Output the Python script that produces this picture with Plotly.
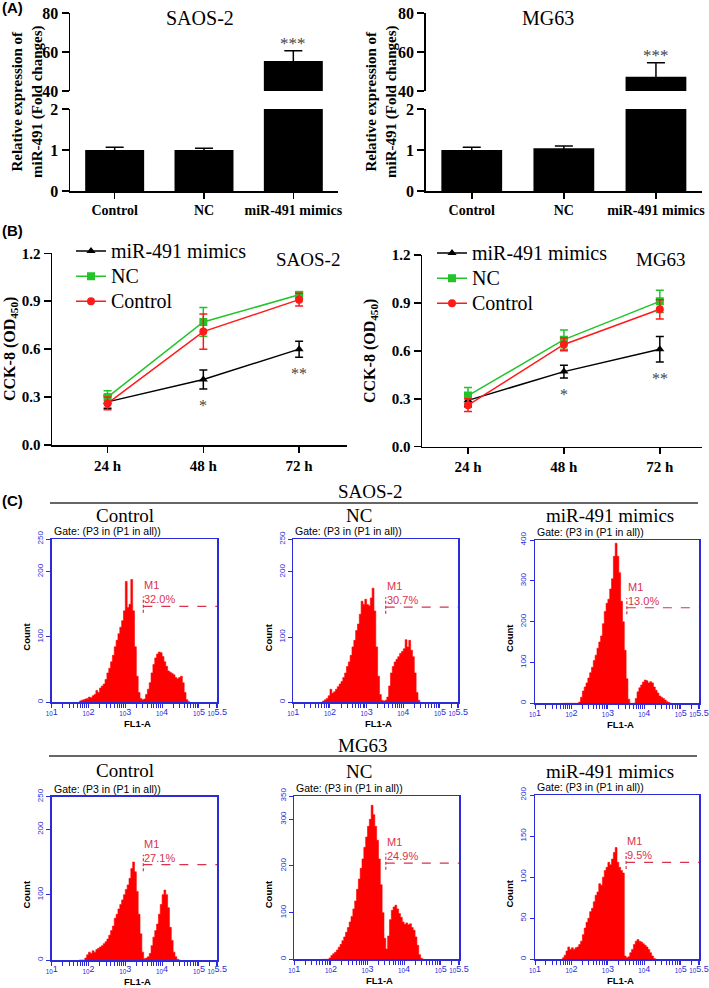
import numpy as np
import plotly.graph_objects as go

W, H = 709, 988
SERIF = "Liberation Serif, Times New Roman, serif"
SANS = "Liberation Sans, Arial, sans-serif"
BLUE = "#2b2bd9"
GATE_RED = "#d8324e"

# ---------------- Panel A data (qRT-PCR, fold change) ----------------
expr_groups = ["Control", "NC", "miR-491 mimics"]
saos_expr = [1.00, 1.00, 55.4]
saos_expr_sd = [0.07, 0.04, 5.3]
mg63_expr = [1.00, 1.04, 47.3]
mg63_expr_sd = [0.07, 0.06, 7.2]

# ---------------- Panel B data (CCK-8, OD450) ----------------
timepoints = ["24 h", "48 h", "72 h"]
cck_series = ["miR-491 mimics", "NC", "Control"]
cck_colors = ["#000000", "#22c42a", "#ff1a1a"]
cck_symbols = ["triangle-up", "square", "circle"]
saos_cck = [[0.27, 0.41, 0.60], [0.30, 0.77, 0.94], [0.26, 0.71, 0.91]]
saos_cck_sd = [[0.04, 0.06, 0.05], [0.04, 0.09, 0.02], [0.04, 0.11, 0.04]]
mg63_cck = [[0.29, 0.47, 0.61], [0.32, 0.67, 0.91], [0.26, 0.64, 0.86]]
mg63_cck_sd = [[0.04, 0.04, 0.08], [0.05, 0.06, 0.07], [0.04, 0.04, 0.06]]
saos_cck_sig = ["", "*", "**"]
mg63_cck_sig = ["", "*", "**"]

# ---------------- Panel C data (flow cytometry histograms) ----------------
flow_titles = ["Control", "NC", "miR-491 mimics", "Control", "NC", "miR-491 mimics"]
flow_bin_start = 1.75      # log10(FL1-A) of first bin edge
flow_bin_width = 0.05      # log10 width of each bin
hist_saos_control = [2, 3, 4, 5, 6, 8, 7, 10, 12, 18, 15, 22, 25, 28, 35, 45, 52, 62, 72, 85,
                     95, 105, 115, 125, 140, 185, 145, 150, 188, 140, 85, 40, 15, 6, 4, 5, 12, 20, 30, 45,
                     58, 68, 74, 77, 76, 70, 62, 55, 48, 46, 44, 42, 38, 36, 38, 40, 30, 15, 4, 1]
hist_saos_nc = [0, 2, 4, 6, 10, 20, 14, 16, 20, 24, 28, 32, 38, 45, 55, 62, 72, 85, 95, 110,
                120, 135, 155, 150, 158, 150, 148, 160, 175, 140, 85, 40, 12, 3, 2, 3, 8, 25, 45, 55,
                62, 66, 70, 75, 78, 82, 96, 85, 95, 80, 70, 45, 15, 3, 0]
hist_saos_mimics = [0, 0, 0, 0, 0, 0, 0, 0, 0, 3, 15, 30, 40, 50, 62, 75, 88, 105, 118, 135,
                    150, 165, 195, 225, 245, 255, 280, 305, 360, 392, 360, 320, 250, 200, 130, 60, 10, 0, 0, 0,
                    12, 28, 38, 45, 52, 57, 55, 50, 53, 50, 40, 32, 25, 18, 15, 12, 8, 4, 2, 0]
hist_mg63_control = [0, 0, 0, 3, 8, 12, 10, 14, 12, 16, 18, 20, 22, 25, 28, 32, 38, 45, 52, 64,
                     70, 78, 85, 92, 100, 108, 115, 125, 140, 150, 135, 105, 70, 40, 12, 2, 3, 5, 10, 22,
                     35, 45, 55, 70, 85, 100, 107, 100, 80, 50, 30, 12, 5, 1, 0]
hist_mg63_nc = [0, 0, 0, 0, 3, 8, 12, 15, 20, 26, 32, 40, 48, 58, 68, 80, 92, 108, 125, 150,
                172, 195, 215, 240, 262, 285, 300, 330, 310, 285, 255, 215, 160, 100, 45, 22, 50, 85, 105, 112,
                116, 108, 98, 90, 80, 75, 78, 74, 76, 68, 62, 48, 30, 10, 2, 0]
hist_mg63_mimics = [2, 5, 10, 15, 12, 14, 12, 14, 15, 18, 22, 30, 38, 45, 50, 58, 62, 70, 78, 82,
                    92, 90, 100, 108, 112, 118, 115, 122, 130, 136, 118, 112, 108, 105, 4, 2, 3, 8, 12, 18,
                    22, 24, 22, 21, 19, 17, 15, 12, 8, 4, 1, 0]
flow_hists = [hist_saos_control, hist_saos_nc, hist_saos_mimics,
              hist_mg63_control, hist_mg63_nc, hist_mg63_mimics]
flow_ymax = [250, 250, 400, 250, 350, 200]
flow_yticks = [[0, 100, 200, 250], [0, 100, 200, 250], [0, 100, 200, 300, 400],
               [0, 100, 200, 250], [0, 100, 200, 300, 350], [0, 50, 100, 150, 200]]
gate_pct = ["32.0%", "30.7%", "13.0%", "27.1%", "24.9%", "9.5%"]
gate_start_log = [3.49, 3.52, 3.52, 3.49, 3.50, 3.50]
gate_height = [147, 146, 234, 146, 206, 118]
flow_xmax_log = 5.5
decade_ticks = [10, 100, 1000, 10000, 100000, 10 ** 5.5]
decade_text = ["<sub>10</sub>1", "<sub>10</sub>2", "<sub>10</sub>3", "<sub>10</sub>4",
               "<sub>10</sub>5", "<sub>10</sub>5.5"]
minor_ticks = [m * 10 ** d for d in range(1, 5) for m in range(2, 10)] + [200000, 300000]


def xd(l, r):
    return [l / W, r / W]


def yd(t, b):
    return [1 - b / H, 1 - t / H]


def px(x):
    return x / W


def py(y):
    return 1 - y / H


fig = go.Figure()
annotations = []
shapes = []


def ann(text, x, y, size, family=SERIF, bold=False, color="black", angle=0,
        xanchor="center", yanchor="middle", align="center"):
    annotations.append(dict(text=text, x=px(x), y=py(y), xref="paper", yref="paper",
                            showarrow=False, textangle=angle, xanchor=xanchor, yanchor=yanchor,
                            align=align,
                            font=dict(family=family, size=size, color=color,
                                      weight="bold" if bold else "normal")))


layout = dict(width=W, height=H, margin=dict(l=0, r=0, t=0, b=0, pad=0, autoexpand=False),
              autosize=False, paper_bgcolor="white", plot_bgcolor="white", showlegend=True)

# ---------------- Panel A ----------------
bold_tick = dict(family=SERIF, size=16, color="black", weight="bold")
A_specs = [
    (saos_expr, saos_expr_sd, 70, 338, "SAOS-2", 200, 1),
    (mg63_expr, mg63_expr_sd, 425.7, 702, "MG63", 548, 3),
]
for vals, sd, l, r, title, tx, k in A_specs:
    up, lo = k, k + 1
    for ax_i in (up, lo):
        fig.add_trace(go.Bar(
            x=expr_groups, y=vals, width=0.66, marker=dict(color="black", line=dict(width=0)),
            error_y=dict(type="data", array=sd, visible=True, color="black", thickness=1.5, width=9),
            xaxis=f"x{ax_i}", yaxis=f"y{ax_i}", showlegend=False))
    layout[f"xaxis{up}"] = dict(domain=xd(l, r), anchor=f"y{up}", range=[-0.5, 2.5],
                                categoryorder="array", categoryarray=expr_groups, visible=False)
    layout[f"yaxis{up}"] = dict(domain=yd(13, 91), anchor=f"x{up}", range=[40, 80],
                                tickvals=[40, 60, 80], showline=True, linecolor="black", linewidth=1.5,
                                ticks="outside", ticklen=7, tickwidth=1.5, tickcolor="black",
                                tickfont=bold_tick, showgrid=False, zeroline=False)
    layout[f"xaxis{lo}"] = dict(domain=xd(l, r), anchor=f"y{lo}", range=[-0.5, 2.5],
                                categoryorder="array", categoryarray=expr_groups,
                                showline=True, linecolor="black", linewidth=1.5,
                                ticks="outside", ticklen=6, tickwidth=1.5, tickcolor="black",
                                tickfont=dict(family=SERIF, size=14, color="black", weight="bold"),
                                showgrid=False, zeroline=False)
    layout[f"yaxis{lo}"] = dict(domain=yd(109, 191), anchor=f"x{lo}", range=[0, 2],
                                tickvals=[0, 1, 2], showline=True, linecolor="black", linewidth=1.5,
                                ticks="outside", ticklen=7, tickwidth=1.5, tickcolor="black",
                                tickfont=bold_tick, showgrid=False, zeroline=False)
    # significance above mimics bar
    annotations.append(dict(text="***", x=expr_groups[2], y=vals[2] + sd[2], xref=f"x{up}", yref=f"y{up}",
                            showarrow=False, yanchor="bottom", yshift=-4,
                            font=dict(family=SERIF, size=17, color="#444444")))
    ann(title, tx, 18, 20)

ann("Relative expression of<br>miR-491 (Fold changes)", 27, 102, 15, bold=True, angle=-90)
ann("Relative expression of<br>miR-491 (Fold changes)", 381, 102, 15, bold=True, angle=-90)
ann("(A)", 0, 8, 15, family=SANS, bold=True, xanchor="left")

# ---------------- Panel B ----------------
B_specs = [
    (saos_cck, saos_cck_sd, saos_cck_sig, 5, (52, 347, 253.3, 445), [-0.58, 2.5], "legend", "SAOS-2",
     (308, 260), (10, 349)),
    (mg63_cck, mg63_cck_sd, mg63_cck_sig, 6, (422, 702, 255, 446.7), [-0.48, 2.44], "legend2", "MG63",
     (661, 260), (370, 351)),
]
for vals, sds, sig, k, (l, r, t, b), xr, leg, title, tpos, lpos in B_specs:
    for s in range(3):
        fig.add_trace(go.Scatter(
            x=timepoints, y=vals[s], name=f"<span style='font-size:20px'>{cck_series[s]}</span>",
            mode="lines+markers",
            line=dict(color=cck_colors[s], width=1.5),
            marker=dict(symbol=cck_symbols[s], size=8, color=cck_colors[s]),
            error_y=dict(type="data", array=sds[s], visible=True, color=cck_colors[s],
                         thickness=1.5, width=4),
            xaxis=f"x{k}", yaxis=f"y{k}", legend=leg, showlegend=True))
    layout[f"xaxis{k}"] = dict(domain=xd(l, r), anchor=f"y{k}", range=xr,
                               categoryorder="array", categoryarray=timepoints,
                               showline=True, linecolor="black", linewidth=1.5,
                               ticks="outside", ticklen=6, tickwidth=1.5, tickcolor="black",
                               tickfont=dict(family=SERIF, size=15, color="black", weight="bold"),
                               showgrid=False, zeroline=False)
    layout[f"yaxis{k}"] = dict(domain=yd(t, b), anchor=f"x{k}", range=[0, 1.2],
                               tickvals=[0, 0.3, 0.6, 0.9, 1.2], tickformat=".1f",
                               showline=True, linecolor="black", linewidth=1.5,
                               ticks="outside", ticklen=7, tickwidth=1.5, tickcolor="black",
                               tickfont=dict(family=SERIF, size=15, color="black", weight="bold"),
                               showgrid=False, zeroline=False)
    for j, st in enumerate(sig):
        if st:
            annotations.append(dict(text=st, x=timepoints[j], y=vals[0][j] - sds[0][j],
                                    xref=f"x{k}", yref=f"y{k}", showarrow=False,
                                    yanchor="top", yshift=-6,
                                    font=dict(family=SERIF, size=16, color="#444444")))
    ann(title, tpos[0], tpos[1], 19)
    ann("CCK-8 (OD<sub>450</sub>)", lpos[0], lpos[1], 16, bold=True, angle=-90)

ann("(B)", 0, 230, 15, family=SANS, bold=True, xanchor="left")

leg_common = dict(xanchor="left", yanchor="top", bgcolor="rgba(0,0,0,0)", borderwidth=0,
                  font=dict(family=SERIF, size=17, color="black"), tracegroupgap=0,
                  itemclick=False, itemdoubleclick=False)
layout["legend"] = dict(x=px(71), y=py(233.5), **leg_common)
layout["legend2"] = dict(x=px(432), y=py(235.5), **leg_common)

# ---------------- Panel C ----------------
boxes = [(51.7, 217.3, 539, 702.3), (293.3, 458.3, 539.3, 702.3), (535, 699, 540, 703.3),
         (51.7, 217.3, 796.7, 960), (294.3, 459, 796, 959.3), (535, 699, 795, 959.3)]
title_pos = [(125, 515), (359, 515), (610, 515), (125, 770), (359, 771), (610, 771)]
for i in range(6):
    k = 7 + i
    l, r, t, b = boxes[i]
    counts = flow_hists[i]
    edges = flow_bin_start + flow_bin_width * np.arange(len(counts) + 1)
    fig.add_trace(go.Scatter(
        x=10 ** edges, y=list(counts) + [0], mode="lines",
        line=dict(shape="hv", color="#ff0000", width=0.6), fill="tozeroy", fillcolor="#ff0000",
        xaxis=f"x{k}", yaxis=f"y{k}", showlegend=False, hoverinfo="skip"))
    g0 = 10 ** gate_start_log[i]
    fig.add_trace(go.Scatter(
        x=[g0, 10 ** flow_xmax_log], y=[gate_height[i], gate_height[i]], mode="lines",
        line=dict(color=GATE_RED, width=1.2, dash="dash"),
        xaxis=f"x{k}", yaxis=f"y{k}", showlegend=False, hoverinfo="skip"))
    fig.add_trace(go.Scatter(
        x=[g0, g0], y=[gate_height[i] - 0.04 * flow_ymax[i], gate_height[i] + 0.06 * flow_ymax[i]],
        mode="lines", line=dict(color=GATE_RED, width=1.2, dash="3px,2px"),
        xaxis=f"x{k}", yaxis=f"y{k}", showlegend=False, hoverinfo="skip"))
    annotations.append(dict(text="M1<br>" + gate_pct[i], x=gate_start_log[i], y=gate_height[i],
                            xref=f"x{k}", yref=f"y{k}", showarrow=False, xanchor="left",
                            yanchor="bottom", align="left", xshift=-1, yshift=-1,
                            font=dict(family=SANS, size=11, color=GATE_RED)))
    layout[f"xaxis{k}"] = dict(domain=xd(l, r), anchor=f"y{k}", type="log", range=[1, flow_xmax_log],
                               tickvals=decade_ticks, ticktext=decade_text,
                               showline=True, mirror=True, linecolor=BLUE, linewidth=1.5,
                               ticks="outside", ticklen=4, tickwidth=1, tickcolor=BLUE,
                               ticklabelstandoff=-4,
                               tickfont=dict(family=SANS, size=9, color=BLUE),
                               minor=dict(tickvals=minor_ticks, ticks="outside", ticklen=4,
                                          tickwidth=1, tickcolor=BLUE, showgrid=False),
                               showgrid=False, zeroline=False)
    layout[f"yaxis{k}"] = dict(domain=yd(t, b), anchor=f"x{k}", range=[0, flow_ymax[i]],
                               tickvals=flow_yticks[i], tickangle=-90,
                               showline=True, mirror=True, linecolor=BLUE, linewidth=1.5,
                               ticks="outside", ticklen=4, tickwidth=1, tickcolor=BLUE,
                               tickfont=dict(family=SANS, size=8, color=BLUE),
                               showgrid=False, zeroline=False)
    ann(flow_titles[i], title_pos[i][0], title_pos[i][1], 19)
    ann("Gate: (P3 in (P1 in all))", l, t - 8, 10.5, family=SANS, xanchor="left")
    ann("Count", l - 25, t + 0.6 * (b - t), 9.5, family=SANS, bold=True, angle=-90)
    ann("FL1-A", (l + r) / 2 + 3, b + 21, 9.5, family=SANS, bold=True)

ann("(C)", 0, 500, 15, family=SANS, bold=True, xanchor="left")
ann("SAOS-2", 370, 492, 19)
ann("MG63", 363, 745, 19)
shapes.append(dict(type="line", xref="paper", yref="paper", x0=px(50), x1=px(698), y0=py(503), y1=py(503),
                   line=dict(color="#333333", width=1.5)))
shapes.append(dict(type="line", xref="paper", yref="paper", x0=px(49), x1=px(697), y0=py(756), y1=py(756),
                   line=dict(color="#333333", width=1.5)))

layout["annotations"] = annotations
layout["shapes"] = shapes
fig.update_layout(**layout)
fig.write_html("out.html", config={"displayModeBar": False, "staticPlot": True},
               post_script="document.body.style.margin='0px';document.body.style.padding='0px';"
                           "document.documentElement.style.overflow='hidden';")
